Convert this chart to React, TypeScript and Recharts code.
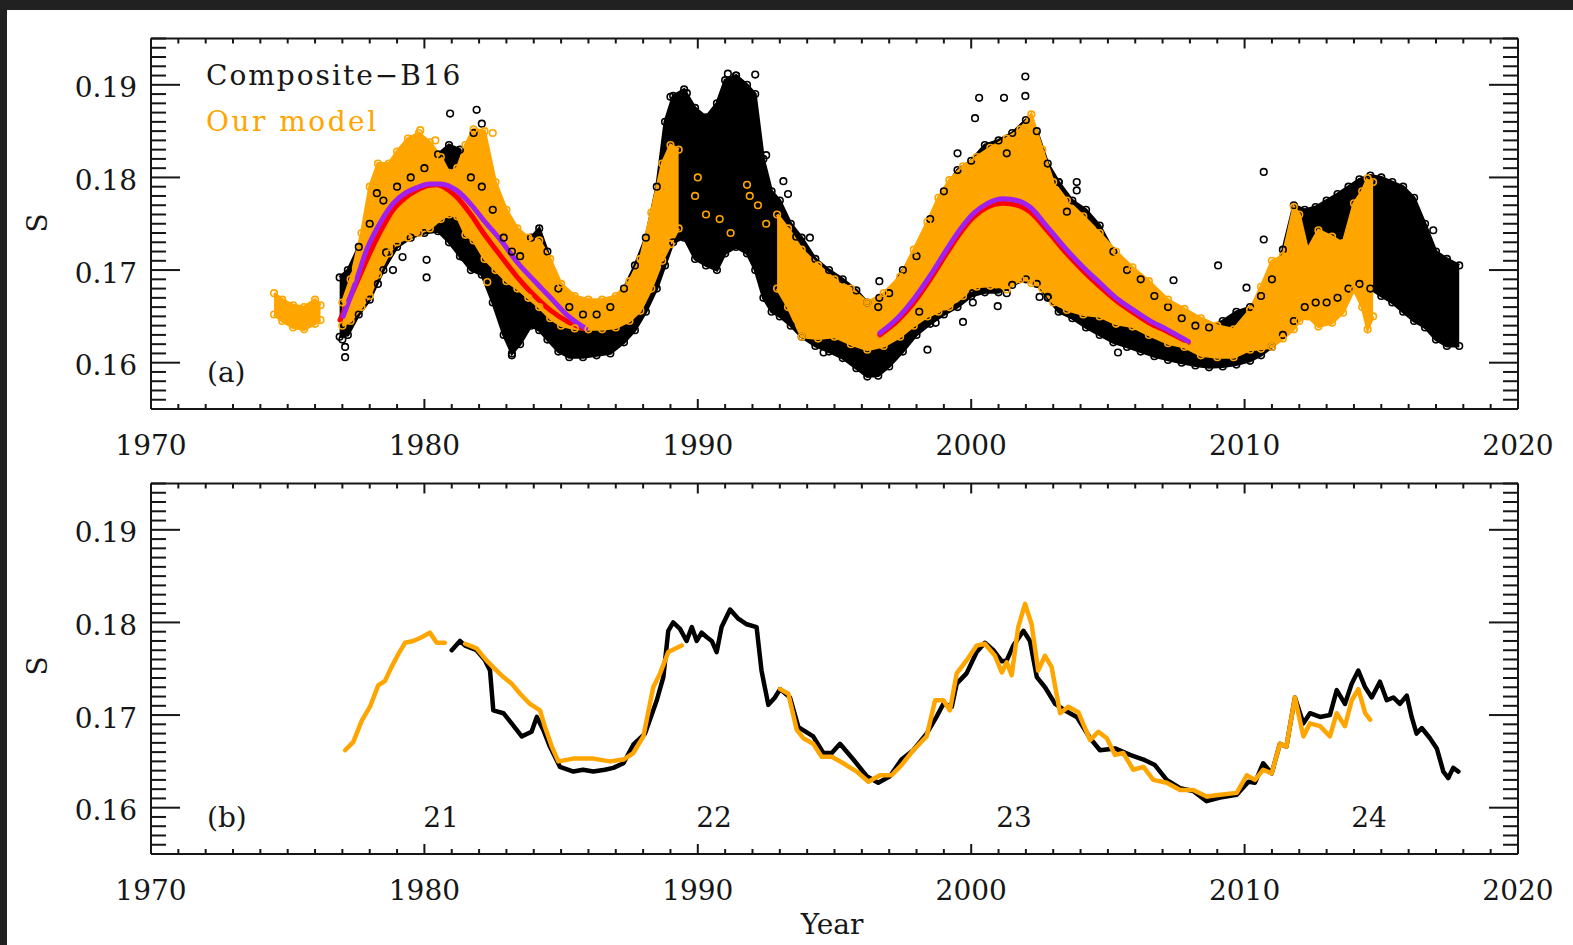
import { ComposedChart, Area, Line, Scatter, XAxis, YAxis } from 'recharts'

const FONT = '"DejaVu Serif", serif'
const INK = '#161616'
const ORANGE = '#ffa500'
const RED = '#ff0000'
const PURPLE = '#a020f0'

// axis ticks (minor every year / every 0.001)
const yearTicks = Array.from({ length: 51 }, (_, i) => 1970 + i)
const sTicks = Array.from({ length: 41 }, (_, i) => (155 + i) / 1000)
const sLabels = ['0.16', '0.17', '0.18', '0.19']

// panel (a): Composite-B16 cloud, [year, low, high]
const compositeBand = [
  [1976.9, 0.1628, 0.1692], [1977.2, 0.163, 0.17], [1977.6, 0.1652, 0.1725], [1978.0, 0.1668, 0.175],
  [1978.5, 0.17, 0.1775], [1979.0, 0.1725, 0.179], [1979.5, 0.1735, 0.18], [1980.0, 0.174, 0.181],
  [1980.5, 0.1742, 0.1825], [1980.9, 0.173, 0.1835], [1981.3, 0.1715, 0.183], [1981.7, 0.17, 0.18],
  [1982.1, 0.1695, 0.179], [1982.5, 0.1665, 0.1765], [1982.9, 0.163, 0.1735], [1983.2, 0.161, 0.172],
  [1983.5, 0.162, 0.1715], [1983.9, 0.164, 0.1735], [1984.2, 0.1635, 0.1745], [1984.5, 0.1625, 0.172],
  [1984.9, 0.1612, 0.168], [1985.3, 0.1606, 0.166], [1985.8, 0.1606, 0.1652], [1986.3, 0.1608, 0.1652],
  [1986.8, 0.161, 0.166], [1987.3, 0.1622, 0.168], [1987.7, 0.1635, 0.1705], [1988.1, 0.1655, 0.1735],
  [1988.5, 0.168, 0.179], [1988.8, 0.1705, 0.186], [1989.1, 0.173, 0.1888], [1989.5, 0.1735, 0.1895],
  [1989.9, 0.1712, 0.1875], [1990.3, 0.1705, 0.1865], [1990.7, 0.17, 0.188], [1991.0, 0.1718, 0.1905],
  [1991.4, 0.1725, 0.191], [1991.8, 0.1718, 0.19], [1992.1, 0.17, 0.189], [1992.4, 0.167, 0.182],
  [1992.7, 0.1655, 0.1785], [1993.0, 0.165, 0.1775], [1993.4, 0.164, 0.175], [1993.8, 0.1628, 0.1735],
  [1994.3, 0.1618, 0.1712], [1994.8, 0.1612, 0.17], [1995.3, 0.1605, 0.169], [1995.8, 0.1594, 0.1678],
  [1996.2, 0.1585, 0.1665], [1996.6, 0.1586, 0.166], [1997.0, 0.1596, 0.1675], [1997.5, 0.1612, 0.17],
  [1998.0, 0.163, 0.1715], [1998.5, 0.1642, 0.1755], [1999.0, 0.1652, 0.1785], [1999.5, 0.166, 0.1808],
  [2000.0, 0.1672, 0.1818], [2000.5, 0.1676, 0.1835], [2001.0, 0.1676, 0.184], [2001.5, 0.1684, 0.1848],
  [2002.0, 0.169, 0.1862], [2002.4, 0.1685, 0.185], [2002.8, 0.167, 0.1815], [2003.2, 0.1655, 0.1795],
  [2003.7, 0.1648, 0.1775], [2004.2, 0.1638, 0.1765], [2004.7, 0.163, 0.1748], [2005.2, 0.1622, 0.172],
  [2005.7, 0.1617, 0.17], [2006.2, 0.1612, 0.169], [2006.7, 0.1607, 0.1672], [2007.2, 0.1603, 0.166],
  [2007.7, 0.16, 0.1648], [2008.2, 0.1597, 0.164], [2008.7, 0.1595, 0.1638], [2009.2, 0.1596, 0.1645],
  [2009.7, 0.1598, 0.1655], [2010.2, 0.1602, 0.166], [2010.6, 0.1608, 0.1672], [2011.0, 0.1617, 0.169],
  [2011.4, 0.163, 0.1722], [2011.8, 0.1645, 0.177], [2012.2, 0.166, 0.1765], [2012.6, 0.1665, 0.1768],
  [2013.0, 0.1665, 0.1775], [2013.4, 0.167, 0.1782], [2013.8, 0.168, 0.179], [2014.2, 0.1685, 0.1798],
  [2014.6, 0.168, 0.1802], [2015.0, 0.1672, 0.18], [2015.4, 0.1665, 0.1795], [2015.8, 0.1655, 0.179],
  [2016.2, 0.1645, 0.1778], [2016.6, 0.1638, 0.175], [2017.0, 0.1625, 0.172], [2017.4, 0.1618, 0.1712],
  [2017.85, 0.1618, 0.1705],
]

const compositeOutliers = [
  [1977.1, 0.1606], [1977.1, 0.1617], [1977.0, 0.1625], [1978.26, 0.1783], [1978.3, 0.1685], [1978.6, 0.1719],
  [1978.85, 0.17], [1979.2, 0.1714], [1980.08, 0.1711], [1980.08, 0.1692], [1981.4, 0.1714], [1980.94, 0.1869],
  [1981.91, 0.1873], [1982.1, 0.1858], [1981.8, 0.1848], [1983.2, 0.1608], [1989.0, 0.1887], [1989.6, 0.1891],
  [1991.1, 0.1912], [1991.4, 0.191], [1992.1, 0.1911], [1991.6, 0.1894], [1992.5, 0.1824], [1993.13, 0.1796],
  [1993.3, 0.1782], [1993.6, 0.1736], [1994.1, 0.1735], [1994.6, 0.1611], [1995.8, 0.1603], [1996.64, 0.1688],
  [1996.64, 0.167], [1998.4, 0.1614], [1998.1, 0.1655], [1998.7, 0.1643], [1999.5, 0.1826], [1999.7, 0.1644],
  [2000.06, 0.1675], [2000.06, 0.1665], [2000.14, 0.1864], [2000.29, 0.1886], [2000.97, 0.1661], [2001.2, 0.1886],
  [2001.3, 0.1826], [2001.3, 0.1675], [2001.98, 0.1909], [2001.98, 0.1888], [2002.5, 0.1671], [2002.8, 0.1671],
  [2003.2, 0.1795], [2003.5, 0.1763], [2003.86, 0.1795], [2003.86, 0.1786], [2005.37, 0.1611], [2007.4, 0.1689],
  [2009.03, 0.1705], [2010.07, 0.1681], [2010.7, 0.1806], [2010.7, 0.1733], [2016.9, 0.1743],
]

// panel (a): our model cloud, [year, low, high]
const modelBandEarly = [
  [1974.5, 0.1652, 0.1675], [1974.8, 0.1645, 0.1668], [1975.2, 0.1638, 0.1662], [1975.6, 0.1636, 0.166],
  [1976.0, 0.1642, 0.1668], [1976.2, 0.1646, 0.1662],
]
const modelBand21 = [
  [1977.0, 0.164, 0.1665], [1977.3, 0.1645, 0.169], [1977.7, 0.166, 0.174], [1978.0, 0.1672, 0.179],
  [1978.3, 0.1695, 0.1815], [1978.7, 0.1718, 0.1815], [1979.0, 0.173, 0.1828], [1979.4, 0.1735, 0.1842],
  [1979.8, 0.174, 0.1848], [1980.2, 0.1745, 0.1838], [1980.6, 0.1755, 0.1822], [1980.9, 0.176, 0.1805],
  [1981.2, 0.1758, 0.181], [1981.5, 0.1738, 0.1835], [1981.8, 0.1732, 0.1852], [1982.2, 0.1712, 0.185],
  [1982.6, 0.17, 0.1795], [1983.0, 0.1688, 0.1765], [1983.4, 0.168, 0.1745], [1983.8, 0.167, 0.1735],
  [1984.2, 0.166, 0.1732], [1984.6, 0.1648, 0.1712], [1985.0, 0.164, 0.1685], [1985.5, 0.1637, 0.1672],
  [1986.0, 0.1636, 0.1668], [1986.5, 0.1636, 0.1668], [1987.0, 0.1638, 0.1672], [1987.5, 0.1645, 0.1688],
  [1987.9, 0.1656, 0.1712], [1988.3, 0.168, 0.1762], [1988.7, 0.171, 0.1815], [1989.0, 0.1728, 0.1835],
  [1989.3, 0.1745, 0.183],
]
const modelBand23 = [
  [1992.9, 0.168, 0.176], [1993.3, 0.166, 0.1745], [1993.8, 0.1628, 0.1722], [1994.4, 0.1626, 0.1705],
  [1995.0, 0.1628, 0.169], [1995.6, 0.162, 0.168], [1996.2, 0.1614, 0.1665], [1996.8, 0.1618, 0.1675],
  [1997.4, 0.1628, 0.1693], [1997.9, 0.164, 0.1722], [1998.4, 0.165, 0.1752], [1998.8, 0.1655, 0.1778],
  [1999.2, 0.166, 0.1797], [1999.7, 0.1672, 0.1812], [2000.2, 0.1682, 0.1822], [2000.7, 0.1683, 0.1832],
  [2001.3, 0.1679, 0.1842], [2001.8, 0.169, 0.1852], [2002.2, 0.1686, 0.1868], [2002.6, 0.168, 0.183],
  [2003.0, 0.1665, 0.1795], [2003.5, 0.1657, 0.1775], [2004.1, 0.1652, 0.1758], [2004.7, 0.165, 0.174],
  [2005.3, 0.1642, 0.172], [2005.9, 0.1639, 0.1703], [2006.5, 0.163, 0.1688], [2007.2, 0.1621, 0.1668],
  [2007.8, 0.1617, 0.1658], [2008.4, 0.1608, 0.1648], [2009.0, 0.1606, 0.164], [2009.6, 0.1606, 0.1636],
  [2010.2, 0.1614, 0.1657], [2010.6, 0.1615, 0.1682], [2011.0, 0.1617, 0.171], [2011.4, 0.1626, 0.1715],
  [2011.8, 0.1636, 0.1768], [2012.0, 0.1645, 0.176], [2012.3, 0.165, 0.1722], [2012.7, 0.1639, 0.1743],
  [2013.2, 0.1643, 0.1736], [2013.6, 0.1654, 0.1729], [2014.0, 0.1679, 0.1772], [2014.3, 0.166, 0.1785],
  [2014.5, 0.1636, 0.1799], [2014.7, 0.165, 0.1795],
]
const modelOutliers = [
  [1978.45, 0.1812], [1979.85, 0.1851], [1980.4, 0.184], [1982.5, 0.1848], [1982.3, 0.1687], [1982.45, 0.1713],
  [1989.9, 0.178], [1990.0, 0.18], [1990.3, 0.176], [1990.8, 0.1755], [1991.2, 0.174], [1991.8, 0.1792],
  [1991.9, 0.178], [1992.2, 0.177], [1992.5, 0.175],
]

// fitted cycle profiles
const fit21Red = [
  [1976.91, 0.1646], [1977.4, 0.1678], [1977.89, 0.1711], [1978.4, 0.1742], [1978.86, 0.1765], [1979.3, 0.1778],
  [1979.72, 0.1786], [1980.1, 0.1791], [1980.45, 0.1792], [1980.8, 0.1788], [1981.18, 0.1779], [1981.7, 0.176],
  [1982.16, 0.174], [1982.8, 0.1715], [1983.38, 0.1693], [1984.0, 0.1673], [1984.59, 0.1657], [1985.2, 0.1645],
  [1985.81, 0.1637],
]
const fit21Purple = [
  [1977.03, 0.165], [1977.5, 0.1688], [1977.89, 0.1722], [1978.4, 0.1752], [1978.86, 0.1772], [1979.3, 0.1783],
  [1979.72, 0.1789], [1980.2, 0.1793], [1980.6, 0.1793], [1981.18, 0.1786], [1981.7, 0.1771], [1982.16, 0.1754],
  [1982.8, 0.1732], [1983.38, 0.1709], [1984.0, 0.1689], [1984.59, 0.1671], [1985.2, 0.1652], [1985.9, 0.1637],
]
const fit23Red = [
  [1996.66, 0.163], [1997.3, 0.1645], [1997.88, 0.1664], [1998.5, 0.169], [1999.1, 0.1718], [1999.6, 0.174],
  [2000.08, 0.1757], [2000.6, 0.1768], [2001.17, 0.1772], [2001.7, 0.177], [2002.15, 0.1763], [2002.8, 0.1742],
  [2003.49, 0.1718], [2004.1, 0.1699], [2004.71, 0.1682], [2005.3, 0.1667], [2005.93, 0.1654], [2006.5, 0.1643],
  [2007.15, 0.1634], [2007.94, 0.1622],
]
const fit23Purple = [
  [1996.66, 0.1632], [1997.3, 0.1648], [1997.88, 0.1668], [1998.5, 0.1694], [1999.1, 0.1722], [1999.6, 0.1744],
  [2000.08, 0.1761], [2000.6, 0.1772], [2001.17, 0.1777], [2001.7, 0.1775], [2002.15, 0.1768], [2002.8, 0.1746],
  [2003.49, 0.1722], [2004.1, 0.1703], [2004.71, 0.1686], [2005.3, 0.167], [2005.93, 0.1657], [2006.5, 0.1646],
  [2007.15, 0.1636], [2007.94, 0.1623],
]

// panel (b): smoothed series
const compositeSmooth = [
  [1981.0, 0.177], [1981.3, 0.178], [1981.49, 0.1775], [1981.91, 0.177], [1982.22, 0.1759], [1982.4, 0.1748],
  [1982.52, 0.1705], [1982.89, 0.1702], [1983.19, 0.1691], [1983.56, 0.1677], [1983.92, 0.1682], [1984.11, 0.1698],
  [1984.35, 0.1684], [1984.59, 0.1666], [1984.96, 0.1644], [1985.45, 0.1639], [1985.8, 0.1641], [1986.18, 0.1639],
  [1986.6, 0.1641], [1986.91, 0.1643], [1987.28, 0.1648], [1987.64, 0.1668], [1988.07, 0.168], [1988.5, 0.1716],
  [1988.74, 0.1741], [1988.92, 0.1791], [1989.1, 0.18], [1989.35, 0.1793], [1989.59, 0.178], [1989.78, 0.1795],
  [1989.96, 0.178], [1990.14, 0.1789], [1990.33, 0.1784], [1990.51, 0.178], [1990.69, 0.1768], [1990.87, 0.1795],
  [1991.18, 0.1814], [1991.48, 0.1804], [1991.79, 0.1798], [1992.15, 0.1795], [1992.33, 0.1748], [1992.58, 0.1711],
  [1992.82, 0.1719], [1993.01, 0.1728], [1993.37, 0.1719], [1993.68, 0.1687], [1994.22, 0.1677], [1994.59, 0.1659],
  [1994.9, 0.1659], [1995.2, 0.1669], [1995.69, 0.1652], [1996.18, 0.1634], [1996.6, 0.1627], [1997.03, 0.1634],
  [1997.45, 0.1652], [1997.88, 0.1662], [1998.37, 0.168], [1998.73, 0.1698], [1998.98, 0.1712], [1999.29, 0.1709],
  [1999.47, 0.1734], [1999.83, 0.1745], [2000.2, 0.1768], [2000.5, 0.1778], [2000.81, 0.177], [2001.12, 0.1758],
  [2001.3, 0.1759], [2001.54, 0.1775], [2001.91, 0.1791], [2002.15, 0.178], [2002.4, 0.1741], [2002.7, 0.173],
  [2003.07, 0.1712], [2003.43, 0.1705], [2003.86, 0.1698], [2004.35, 0.1675], [2004.71, 0.1662], [2005.26, 0.1664],
  [2005.81, 0.1657], [2006.3, 0.1652], [2006.72, 0.1646], [2007.15, 0.163], [2007.64, 0.1621], [2008.12, 0.1618],
  [2008.61, 0.1607], [2009.1, 0.1611], [2009.71, 0.1614], [2010.14, 0.1628], [2010.38, 0.1627], [2010.68, 0.1648],
  [2010.99, 0.1637], [2011.29, 0.1669], [2011.53, 0.1666], [2011.84, 0.1719], [2012.15, 0.1691], [2012.39, 0.1702],
  [2012.76, 0.1698], [2013.12, 0.17], [2013.37, 0.1727], [2013.67, 0.1712], [2013.92, 0.1734], [2014.16, 0.1748],
  [2014.41, 0.173], [2014.65, 0.1719], [2014.95, 0.1736], [2015.2, 0.1716], [2015.44, 0.1719], [2015.68, 0.1712],
  [2015.93, 0.1721], [2016.11, 0.1698], [2016.29, 0.168], [2016.48, 0.1686], [2016.78, 0.1675], [2017.03, 0.1664],
  [2017.27, 0.1639], [2017.45, 0.1632], [2017.63, 0.1643], [2017.82, 0.1639],
]
const modelSmoothA = [
  [1977.1, 0.1662], [1977.4, 0.1671], [1977.71, 0.1694], [1978.01, 0.1709], [1978.31, 0.1732], [1978.56, 0.1737],
  [1978.8, 0.1752], [1979.05, 0.1766], [1979.29, 0.1778], [1979.59, 0.178], [1979.9, 0.1784], [1980.2, 0.1789],
  [1980.45, 0.1778], [1980.75, 0.1778],
]
const modelSmoothB = [
  [1981.49, 0.1777], [1981.91, 0.1772], [1982.27, 0.1759], [1982.64, 0.1748], [1982.89, 0.1741], [1983.19, 0.1734],
  [1983.5, 0.1723], [1983.86, 0.1712], [1984.23, 0.1705], [1984.41, 0.1687], [1984.66, 0.1666], [1984.9, 0.165],
  [1985.45, 0.1653], [1986.18, 0.1653], [1986.79, 0.165], [1987.28, 0.1652], [1987.64, 0.1659], [1988.01, 0.1677],
  [1988.37, 0.173], [1988.62, 0.1745], [1988.92, 0.1768], [1989.41, 0.1775],
]
const modelSmoothC = [
  [1993.01, 0.1728], [1993.31, 0.1723], [1993.62, 0.1684], [1993.86, 0.1675], [1994.22, 0.1669], [1994.53, 0.1655],
  [1994.9, 0.1655], [1995.32, 0.1648], [1995.81, 0.1639], [1996.24, 0.1628], [1996.66, 0.1635], [1997.09, 0.1635],
  [1997.45, 0.1646], [1997.88, 0.1662], [1998.37, 0.1677], [1998.68, 0.1716], [1998.98, 0.1716], [1999.22, 0.1705],
  [1999.47, 0.1745], [1999.83, 0.1759], [2000.2, 0.1775], [2000.5, 0.1777], [2000.87, 0.1764], [2001.12, 0.1746],
  [2001.3, 0.1757], [2001.48, 0.1743], [2001.72, 0.1795], [2001.97, 0.182], [2002.21, 0.1798], [2002.45, 0.1748],
  [2002.7, 0.1764], [2002.94, 0.1752], [2003.25, 0.1702], [2003.55, 0.1709], [2003.92, 0.1703], [2004.35, 0.1673],
  [2004.65, 0.1682], [2004.96, 0.1675], [2005.26, 0.1657], [2005.56, 0.1659], [2005.93, 0.1641], [2006.3, 0.1644],
  [2006.66, 0.163], [2007.15, 0.1627], [2007.64, 0.1619], [2008.12, 0.1619], [2008.61, 0.1612], [2009.1, 0.1614],
  [2009.71, 0.1616], [2010.08, 0.1635], [2010.38, 0.163], [2010.68, 0.1641], [2010.99, 0.1637], [2011.29, 0.1669],
  [2011.53, 0.1666], [2011.84, 0.1719], [2012.15, 0.1677], [2012.39, 0.1691], [2012.76, 0.1688], [2013.12, 0.1677],
  [2013.37, 0.1702], [2013.67, 0.1688], [2013.92, 0.1716], [2014.16, 0.1728], [2014.41, 0.1702], [2014.59, 0.1695],
]

const rows = (pts: number[][]) =>
  pts.map((p) => ({ year: p[0], s: p.length > 2 ? [p[1], p[2]] : p[1] }))
// the edge points of a cloud band, drawn as circles
const edges = (pts: number[][]) => [
  ...pts.map((p) => ({ year: p[0], s: p[1] })),
  ...pts.map((p) => ({ year: p[0], s: p[2] })),
]

const tickText = { fontFamily: FONT, fontSize: 28, fill: INK }

const BottomTick = (p: any) => {
  const major = p.payload.value % 10 === 0
  return (
    <g>
      <line x1={p.x} x2={p.x} y1={p.y} y2={p.y - (major ? 10 : 5)} stroke={INK} strokeWidth={2} />
      {major && (
        <text x={p.x} y={p.y + 45.5} textAnchor="middle" {...tickText}>
          {p.payload.value}
        </text>
      )}
    </g>
  )
}
const TopTick = (p: any) => {
  const major = p.payload.value % 10 === 0
  return <line x1={p.x} x2={p.x} y1={p.y} y2={p.y + (major ? 10 : 5)} stroke={INK} strokeWidth={2} />
}
const isMajorS = (v: number) => Math.round(v * 1000) % 10 === 0
const LeftTick = (p: any) => {
  const v = p.payload.value
  const major = isMajorS(v)
  const label = sLabels.find((l) => Math.abs(Number(l) - v) < 1e-6)
  return (
    <g>
      <line x1={p.x} x2={p.x + (major ? 29 : 15)} y1={p.y} y2={p.y} stroke={INK} strokeWidth={2} />
      {label && (
        <text x={p.x - 14} y={p.y + 12.5} textAnchor="end" {...tickText}>
          {label}
        </text>
      )}
    </g>
  )
}
const RightTick = (p: any) => {
  const major = isMajorS(p.payload.value)
  return <line x1={p.x} x2={p.x - (major ? 29 : 15)} y1={p.y} y2={p.y} stroke={INK} strokeWidth={2} />
}

function frameAxes() {
  const line = { stroke: INK, strokeWidth: 2 }
  const common = { tickSize: 0, tickMargin: 0, tickLine: false, axisLine: line, interval: 0 as const, allowDataOverflow: true }
  return [
    <XAxis key="xb" xAxisId={0} dataKey="year" type="number" domain={[1970, 2020]} ticks={yearTicks} height={1} tick={BottomTick} {...common} />,
    <XAxis key="xt" xAxisId="top" orientation="top" dataKey="year" type="number" domain={[1970, 2020]} ticks={yearTicks} height={1} tick={TopTick} {...common} />,
    <YAxis key="yl" yAxisId={0} type="number" domain={[0.155, 0.195]} ticks={sTicks} width={1} tick={LeftTick} {...common} />,
    <YAxis key="yr" yAxisId="right" orientation="right" type="number" domain={[0.155, 0.195]} ticks={sTicks} width={1} tick={RightTick} {...common} />,
  ]
}

const band = (key: string, pts: number[][], color: string) => (
  <Area key={key} data={rows(pts)} dataKey="s" type="linear" fill={color} fillOpacity={1} stroke={color}
    strokeWidth={3} dot={false} activeDot={false} isAnimationActive={false} />
)
const circles = (key: string, data: { year: number; s: any }[], color: string) => (
  <Scatter key={key} data={data} dataKey="s" isAnimationActive={false}
    shape={(p: any) => <circle cx={p.cx} cy={p.cy} r={3.3} fill="none" stroke={color} strokeWidth={1.6} />} />
)
const curve = (key: string, pts: number[][], color: string, width: number, type: 'monotone' | 'linear') => (
  <Line key={key} data={rows(pts)} dataKey="s" type={type} stroke={color} strokeWidth={width}
    dot={false} activeDot={false} isAnimationActive={false} strokeLinejoin="round" strokeLinecap="round" />
)

const label = { fontFamily: FONT, fontSize: 28, fill: INK }

export default function App() {
  return (
    <div style={{ position: 'fixed', left: 0, top: 0, width: 1573, height: 945, background: '#212121', overflow: 'hidden' }}>
      <div style={{ position: 'absolute', left: 7, top: 10, width: 1566, height: 935, background: '#fff' }} />
      <div style={{ position: 'absolute', left: 0, top: 0 }}>
        <ComposedChart width={1573} height={470} margin={{ top: 37.5, right: 54, bottom: 60, left: 150 }}>
          {frameAxes()}
          {band('cb', compositeBand, '#000')}
          {circles('ce', edges(compositeBand), '#000')}
          {circles('co', rows(compositeOutliers), '#000')}
          {band('m0', modelBandEarly, ORANGE)}
          {band('m21', modelBand21, ORANGE)}
          {band('m23', modelBand23, ORANGE)}
          {circles('me', edges([...modelBandEarly, ...modelBand21, ...modelBand23]), ORANGE)}
          {circles('mo', rows(modelOutliers), ORANGE)}
          {curve('r21', fit21Red, RED, 5, 'monotone')}
          {curve('p21', fit21Purple, PURPLE, 5, 'monotone')}
          {curve('r23', fit23Red, RED, 5, 'monotone')}
          {curve('p23', fit23Purple, PURPLE, 5, 'monotone')}
        </ComposedChart>
      </div>
      <div style={{ position: 'absolute', left: 0, top: 470 }}>
        <ComposedChart width={1573} height={475} margin={{ top: 12.5, right: 54, bottom: 90, left: 150 }}>
          {frameAxes()}
          {curve('cs', compositeSmooth, '#000', 4.5, 'linear')}
          {curve('ma', modelSmoothA, ORANGE, 4.5, 'linear')}
          {curve('mb', modelSmoothB, ORANGE, 4.5, 'linear')}
          {curve('mc', modelSmoothC, ORANGE, 4.5, 'linear')}
        </ComposedChart>
      </div>
      <svg width={1573} height={945} style={{ position: 'absolute', left: 0, top: 0, pointerEvents: 'none' }}>
        <text x={206} y={85} {...label} letterSpacing={2}>Composite−B16</text>
        <text x={206} y={131} {...label} fill={ORANGE} letterSpacing={2.5}>Our model</text>
        <text x={207} y={382} {...label}>(a)</text>
        <text x={207} y={827} {...label}>(b)</text>
        <text x={441} y={827} textAnchor="middle" {...label}>21</text>
        <text x={714} y={827} textAnchor="middle" {...label}>22</text>
        <text x={1014} y={827} textAnchor="middle" {...label}>23</text>
        <text x={1369} y={827} textAnchor="middle" {...label}>24</text>
        <text x={832} y={934} textAnchor="middle" {...label}>Year</text>
        <text transform="translate(47,223) rotate(-90)" textAnchor="middle" {...label}>S</text>
        <text transform="translate(47,666) rotate(-90)" textAnchor="middle" {...label}>S</text>
      </svg>
    </div>
  )
}
